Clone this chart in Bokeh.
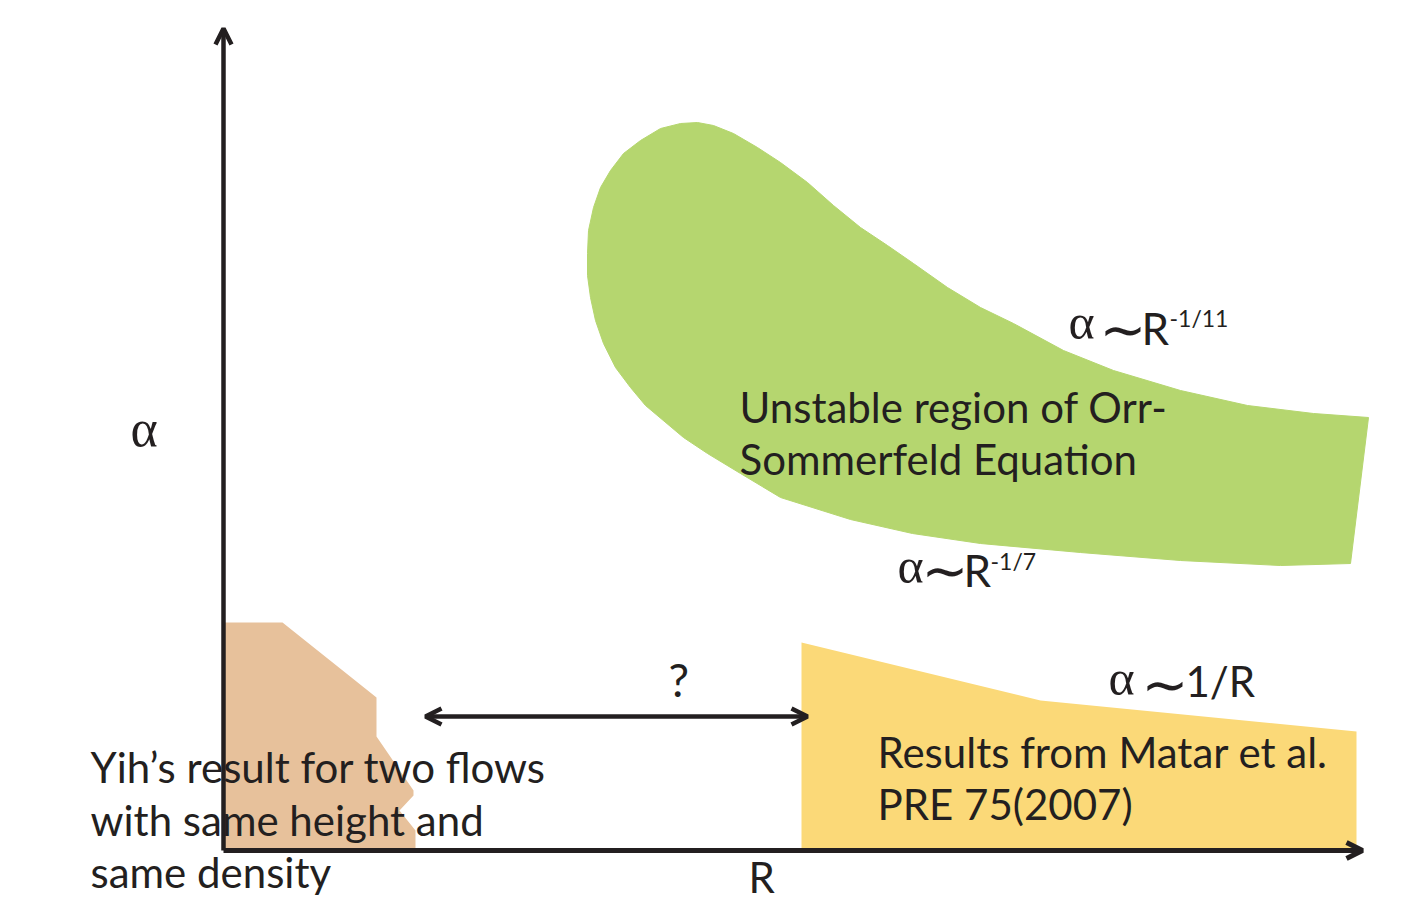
from bokeh.plotting import figure
from bokeh.models import Range1d, Label, Arrow, OpenHead
from bokeh.embed import file_html
from bokeh.resources import INLINE

# ---- schematic data (R, alpha) in arbitrary units, origin at axis corner ----
green_R = [364, 365, 370, 377, 387, 400, 417, 437, 457, 474, 490, 510, 534, 557, 584, 610, 637,
           664, 690, 724, 757, 790, 840, 890, 957, 1024, 1090, 1145,
           1127, 1057, 957, 857, 757, 689, 627, 557, 517, 484, 460, 422, 407, 392, 380, 372, 367, 364]
green_a = [597, 620, 643, 663, 680, 697, 710, 722, 727, 728, 725, 717, 703, 688, 668, 645, 623,
           605, 587, 563, 543, 527, 500, 480, 460, 445, 437, 433,
           287, 285, 290, 298, 307, 317, 331, 353, 377, 397, 413, 445, 463, 483, 507, 530, 553, 575]

tan_R = [0, 59, 153, 153, 190, 190, 176, 192, 192, 0]
tan_a = [228, 228, 153, 114, 60, 55, 40, 20, 0, 0]

yellow_R = [578, 817, 1133, 1133, 578]
yellow_a = [208, 150, 119, 0, 0]

axis_R_end = 1139
axis_a_end = 822
gap_R = [202, 584]
gap_a = 134

TXT = "#231f20"
SANS = "Lato"
SERIF = "Liberation Serif"
TILDE_FONT = "DejaVu Sans"

p = figure(width=1400, height=905, output_backend="svg", toolbar_location=None,
           x_range=Range1d(-223, 1177), y_range=Range1d(-55, 850), min_border=0)
p.axis.visible = False
p.grid.visible = False
p.outline_line_color = None
p.background_fill_color = "white"

p.patch(green_R, green_a, fill_color="#b5d66f", line_color="#b5d66f", line_width=1)
p.patch(tan_R, tan_a, fill_color="#e7c19b", line_color=None)
p.patch(yellow_R, yellow_a, fill_color="#fbd978", line_color=None)

# axes
p.add_layout(Arrow(x_start=0, y_start=0, x_end=axis_R_end, y_end=0, line_width=5, line_color=TXT,
                   end=OpenHead(size=16, line_width=5, line_color=TXT)))
p.add_layout(Arrow(x_start=0, y_start=0, x_end=0, y_end=axis_a_end, line_width=4.5, line_color=TXT,
                   end=OpenHead(size=16, line_width=4.5, line_color=TXT)))
# gap arrow
p.add_layout(Arrow(x_start=gap_R[0], y_start=gap_a, x_end=gap_R[1], y_end=gap_a, line_width=4.5,
                   line_color=TXT,
                   start=OpenHead(size=16, line_width=4.5, line_color=TXT),
                   end=OpenHead(size=16, line_width=4.5, line_color=TXT)))


def lab(x, y, t, font=SANS, size=42):
    # baseline correction for how the label is anchored
    p.add_layout(Label(x=x, y=y + 0.4 * size, text=t, text_font=font, text_font_size=f"{size}px",
                       text_color=TXT, text_align="left", text_baseline="alphabetic"))


lab(-93, 401, "α", SERIF, 52)

lab(516, 427, "Unstable region of Orr-")
lab(516, 375, "Sommerfeld  Equation")

lab(845, 509, "α", SERIF, 50)
lab(876, 499, "∼", TILDE_FONT, 56)
lab(918, 505, "R", SANS, 44)
lab(946, 523, "-1/11", SANS, 23)

lab(674, 265, "α", SERIF, 50)
lab(698, 258, "∼", TILDE_FONT, 56)
lab(740, 263, "R", SANS, 44)
lab(767, 280, "-1/7", SANS, 23)

lab(885, 153, "α", SERIF, 50)
lab(918, 144, "∼", TILDE_FONT, 56)
lab(962, 153, "1/R", SANS, 42)

lab(445, 153, "?", SANS, 46)
lab(525, -43, "R", SANS, 42)

lab(-133, 67, "Yih’s result for two flows")
lab(-133, 14, "with same height and")
lab(-133, -38, "same density")

lab(654, 82, "Results from Matar et al.")
lab(654, 30, "PRE 75(2007)")

open("out.html", "w").write(file_html(p, INLINE))
